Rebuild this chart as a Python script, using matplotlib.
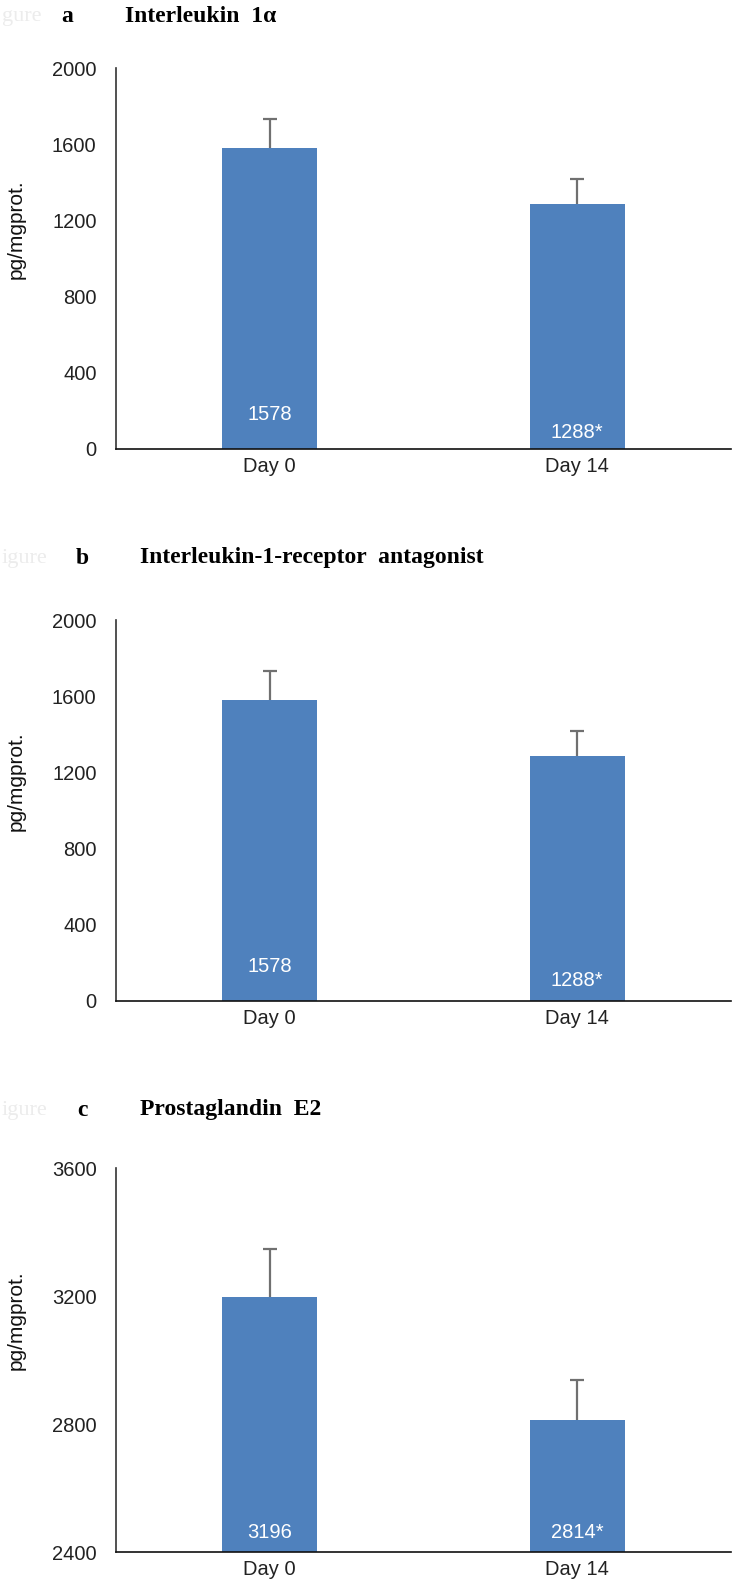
import matplotlib
matplotlib.use("Agg")
import matplotlib.pyplot as plt

days = ["Day 0", "Day 14"]

il1a = [1578, 1288]
il1a_err = [155, 130]
il1a_txt = ["1578", "1288*"]

il1ra = [1578, 1288]
il1ra_err = [155, 130]
il1ra_txt = ["1578", "1288*"]

pge2 = [3196, 2814]
pge2_err = [150, 125]
pge2_txt = ["3196", "2814*"]

blue = "#4F81BD"
plt.rcParams["font.family"] = ["Liberation Sans", "DejaVu Sans"]

fig = plt.figure(figsize=(7.35, 15.95), dpi=100)
W, H = 735.0, 1595.0

def panel(top, bottom, vals, errs, txt, ylim, yticks, lab_off):
    ax = fig.add_axes([116 / W, 1 - bottom / H, 615 / W, (bottom - top) / H])
    x = range(len(vals))
    ax.bar(x, [v - ylim[0] for v in vals], bottom=ylim[0], width=0.31, color=blue)
    eb = ax.errorbar(x, vals, yerr=[[0] * len(errs), errs], fmt="none",
                     ecolor="#707070", elinewidth=1.6, capsize=5, capthick=1.6)
    eb[1][0].set_visible(False)  # no cap at the bar top
    for i in x:
        ax.annotate(txt[i], xy=(i, ylim[0]), xytext=(0, lab_off[i] * 0.72),
                    textcoords="offset points", ha="center", va="center",
                    color="white", fontsize=14.5)
    ax.set_xlim(-0.5, len(vals) - 0.5)
    ax.set_ylim(*ylim)
    ax.set_xticks(list(x))
    ax.set_xticklabels(days)
    ax.set_yticks(yticks)
    ax.tick_params(length=0, labelsize=14.5, colors="#222222")
    ax.tick_params(axis="y", pad=14)
    ax.tick_params(axis="x", pad=6)
    for s in ["top", "right"]:
        ax.spines[s].set_visible(False)
    ax.spines["left"].set_color("#333333")
    ax.spines["bottom"].set_color("#111111")
    ax.spines["left"].set_linewidth(1.2)
    ax.spines["bottom"].set_linewidth(1.2)
    return ax

panel(68, 449, il1a, il1a_err, il1a_txt, (0, 2000), range(0, 2001, 400), [34, 17])
panel(620, 1001, il1ra, il1ra_err, il1ra_txt, (0, 2000), range(0, 2001, 400), [35, 21])
panel(1168, 1552, pge2, pge2_err, pge2_txt, (2400, 3600), range(2400, 3601, 400), [20, 20])

# y labels
for yc in [229, 781, 1320]:
    fig.text(16 / W, 1 - yc / H, "pg/mgprot.", rotation=90, ha="center",
             va="center", fontsize=15, color="#111111")

# titles
serif = ["Liberation Serif", "DejaVu Serif"]
titles = [(17, 67, "a", 125, "Interleukin  1\u03b1", "gure"),
          (558, 82, "b", 140, "Interleukin-1-receptor  antagonist", "igure"),
          (1110, 82, "c", 140, "Prostaglandin  E2", "igure")]
for ty, lx, let, tx, t, ghost in titles:
    fig.text(2 / W, 1 - ty / H, ghost, ha="left", va="center",
             fontsize=16, color="#ececec", family=serif)
    fig.text(lx / W, 1 - ty / H, let, ha="center", va="center",
             fontsize=17, fontweight="bold", family=serif)
    fig.text(tx / W, 1 - ty / H, t, ha="left", va="center",
             fontsize=17, fontweight="bold", family=serif)

fig.savefig("out.png", dpi=100)
